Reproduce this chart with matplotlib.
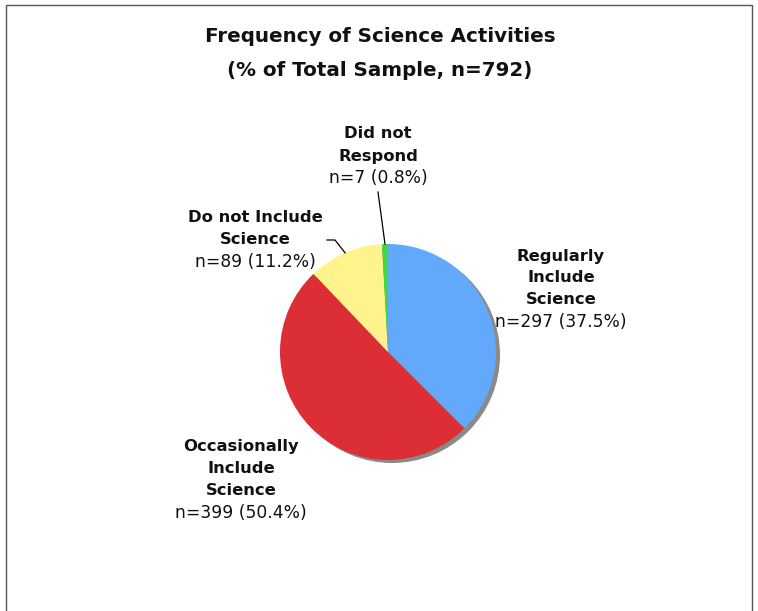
import numpy as np
import matplotlib
matplotlib.use("Agg")
import matplotlib.pyplot as plt
from matplotlib.patches import Circle, Rectangle

plt.rcParams["font.family"] = ["DejaVu Sans"]

# ---- data ----
categories = ["Regularly\nInclude\nScience", "Occasionally\nInclude\nScience",
              "Do not Include\nScience", "Did not\nRespond"]
counts = [297, 399, 89, 7]
percents = [37.5, 50.4, 11.2, 0.8]
colors = ["#63A9FB", "#DC2E35", "#FFF38C", "#3FD845"]
title_lines = ["Frequency of Science Activities", "(% of Total Sample, n=792)"]

W, H = 758, 611
fig = plt.figure(figsize=(W / 100, H / 100), dpi=100)
ax = fig.add_axes([0, 0, 1, 1])

cx, cy, R = 388, 352, 108

# frame
ax.add_patch(Rectangle((6, 5), 746, 640, fill=False, edgecolor="#555555", lw=1.0, zorder=0))

# shadow
ax.add_patch(Circle((cx + 4, cy + 3), R, color="#8a8a8a", zorder=1, lw=0))

# pie (y-axis inverted, so counterclock in data = clockwise on screen)
wedges, _ = ax.pie(counts, colors=colors, startangle=-90, counterclock=True,
                   center=(cx, cy), radius=R, frame=True,
                   wedgeprops=dict(linewidth=0, zorder=2))
ax.set_xlim(0, W)
ax.set_ylim(H, 0)
ax.set_aspect("equal")
ax.axis("off")

# label layout (pixel coords): x centre, first line y
label_x = [561, 241, 255.5, 378]
label_y0 = [256, 446.5, 218, 134]
step = 22
for cat, c, p, lx, ly in zip(categories, counts, percents, label_x, label_y0):
    lines = cat.split("\n")
    for i, line in enumerate(lines):
        ax.text(lx, ly + i * step, line, ha="center", va="center", fontsize=11.8,
                fontweight="bold", color="#111111", zorder=5)
    ax.text(lx, ly + len(lines) * step, f"n={c} ({p}%)", ha="center", va="center",
            fontsize=12.3, color="#111111", zorder=5)

# leader lines to small slices
total = sum(counts)
cum = np.cumsum([0] + counts)
def edge_point(i):
    frac = (cum[i] + counts[i] / 2) / total
    ang = np.deg2rad(90 - 360 * frac)
    return cx + R * np.cos(ang), cy - R * np.sin(ang)

ex, ey = edge_point(3)
ax.plot([378, ex], [192, ey], color="black", lw=0.9, zorder=4)
ex, ey = edge_point(2)
ax.plot([327, 335, ex], [240, 240, ey], color="black", lw=0.9, zorder=4)

for i, t in enumerate(title_lines):
    ax.text(380, 37 + 33 * i, t, ha="center", va="center", fontsize=14.3,
            fontweight="bold", color="#111111")

fig.savefig("out.png", dpi=100)
